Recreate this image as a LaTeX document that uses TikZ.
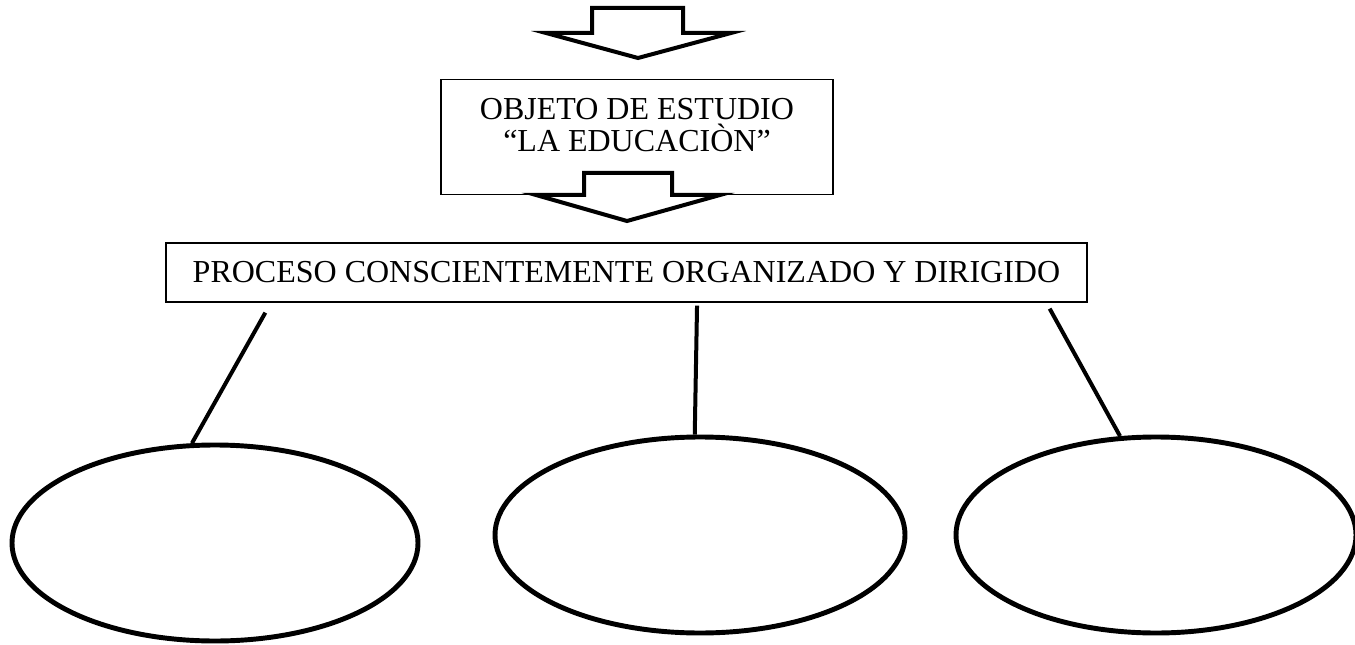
\documentclass[tikz,border=0pt]{standalone}
\usepackage{fontspec}
\setmainfont{Liberation Serif}
\usetikzlibrary{shapes.geometric}

\begin{document}
\begin{tikzpicture}[
            x=0.75pt, y=-0.75pt,
            box/.style = {shape=rectangle, draw, line width=1pt, align=center, font=\fontsize{24pt}{24pt}\selectfont},
            oval/.style = {shape=ellipse, draw, line width=3.7pt, minimum height=147pt},
            branch/.style = {line width=3pt},
            blockarrow/.style = {draw, fill=white, line width=3pt, line join=miter}
        ]

        \useasboundingbox (0,0) rectangle (1355,645);

        % arrow on top
        \draw[blockarrow] (592,8) -- (683,8) -- (683,33) -- (731,33) -- (638,58) -- (546,33) -- (592,33) -- cycle;

        \node[box, anchor=north, minimum width=294pt, text height=39.6pt, text depth=18pt, inner ysep=14.25pt] (objeto) at (637,79) {OBJETO DE ESTUDIO \\ “LA EDUCACIÒN”};

        % arrow under the box
        \draw[blockarrow] (584,173) -- (672,173) -- (672,195) -- (720,195) -- (627,221) -- (536,195) -- (584,195) -- cycle;

        \node[box, minimum width=690.75pt, minimum height=44.25pt] (proceso) at (626.5,272.5) {PROCESO CONSCIENTEMENTE ORGANIZADO Y DIRIGIDO};

        \node[oval, minimum width=304.5pt] (ovalA) at (215,543) {};
        \node[oval, minimum width=307.5pt] (ovalB) at (700,535) {};
        \node[oval, minimum width=300pt] (ovalC) at (1156,535) {};

        \draw[branch] ([xshift=75pt, yshift=-7.5pt]proceso.south west) -- (ovalA.103);
        \draw[branch] ([xshift=52.9pt, yshift=-2.25pt]proceso.south) -- (ovalB.93);
        \draw[branch] ([xshift=-28.5pt, yshift=-4.5pt]proceso.south east) -- (ovalC.110);
    \end{tikzpicture}
\end{document}
